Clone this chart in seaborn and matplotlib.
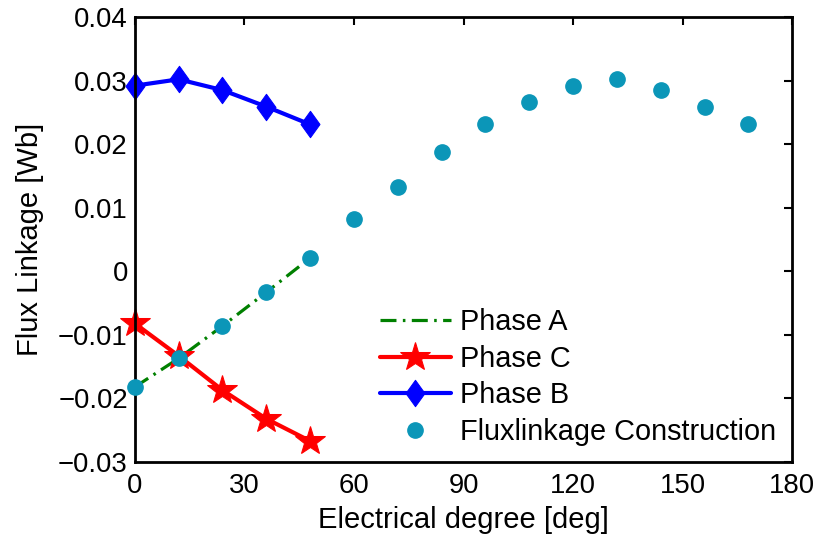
import numpy as np
import pandas as pd
import matplotlib
matplotlib.use("Agg")
import matplotlib.pyplot as plt
from matplotlib.path import Path
import seaborn as sns

# Data
deg_phase = [0, 12, 24, 36, 48]
phase_a = [-0.0182, -0.0137, -0.0086, -0.0033, 0.0021]
phase_c = [-0.0082, -0.0133, -0.0187, -0.0232, -0.0267]
phase_b = [0.0292, 0.0302, 0.0285, 0.0259, 0.0231]
deg_constr = [0, 12, 24, 36, 48, 60, 72, 84, 96, 108, 120, 132, 144, 156, 168]
flux_constr = [-0.0182, -0.0137, -0.0086, -0.0033, 0.0021, 0.0082, 0.0133, 0.0187,
               0.0232, 0.0267, 0.0292, 0.0302, 0.0285, 0.0259, 0.0231]
xticks = [0, 30, 60, 90, 120, 150, 180]
yticks = [-0.03, -0.02, -0.01, 0, 0.01, 0.02, 0.03, 0.04]
ytick_labels = ["\u22120.03", "\u22120.02", "\u22120.01", "0", "0.01", "0.02", "0.03", "0.04"]

sns.set_style("white")
plt.rcParams['font.family'] = ['Liberation Sans', 'DejaVu Sans']
plt.rcParams['axes.unicode_minus'] = True
for k in ['text.color', 'axes.labelcolor', 'xtick.color', 'ytick.color']:
    plt.rcParams[k] = 'black'

diamond = Path([(0, 1), (0.72, 0), (0, -1), (-0.72, 0), (0, 1)],
               [Path.MOVETO, Path.LINETO, Path.LINETO, Path.LINETO, Path.CLOSEPOLY])

fig = plt.figure(figsize=(8.27, 5.40), dpi=100)
ax = fig.add_axes([0.163, 0.1444, 0.795, 0.8241])

sns.lineplot(x=deg_phase, y=phase_a, ax=ax, color='#008000', lw=2.3,
             linestyle=(0, (5, 2, 0.8, 2)), label='Phase A', clip_on=False)
sns.lineplot(x=deg_phase, y=phase_c, ax=ax, color='#ff0000', lw=3.0,
             marker='*', markersize=22, markeredgecolor='#ff0000', label='Phase C',
             clip_on=False)
sns.lineplot(x=deg_phase, y=phase_b, ax=ax, color='#0000ff', lw=3.0,
             marker=diamond, markersize=19, markeredgecolor='#0000ff', label='Phase B',
             clip_on=False)
ax.plot(deg_constr, flux_constr, linestyle='none', marker='o', markersize=11,
        color='#0b96b8', markeredgecolor='#0b96b8', label='Fluxlinkage Construction',
        zorder=5, clip_on=False)

ax.set_xlim(0, 180)
ax.set_ylim(-0.03, 0.04)
ax.set_xticks(xticks)
ax.set_yticks(yticks)
ax.set_yticklabels(ytick_labels)
ax.tick_params(direction='in', length=6, width=1.5, labelsize=19.8, top=True, right=True,
               pad=5)
ax.tick_params(axis='x', pad=8)
for s in ax.spines.values():
    s.set_linewidth(2)
    s.set_color('black')
ax.set_xlabel('Electrical degree [deg]', fontsize=21, labelpad=5)
ax.set_ylabel('Flux Linkage [Wb]', fontsize=21, labelpad=10)

ax.legend(loc='upper left', bbox_to_anchor=(0.373, 0.345), frameon=False, fontsize=20.8,
          handlelength=2.45, handletextpad=0.33, labelspacing=0.29, borderpad=0,
          borderaxespad=0)

fig.savefig('out.png', dpi=100)
